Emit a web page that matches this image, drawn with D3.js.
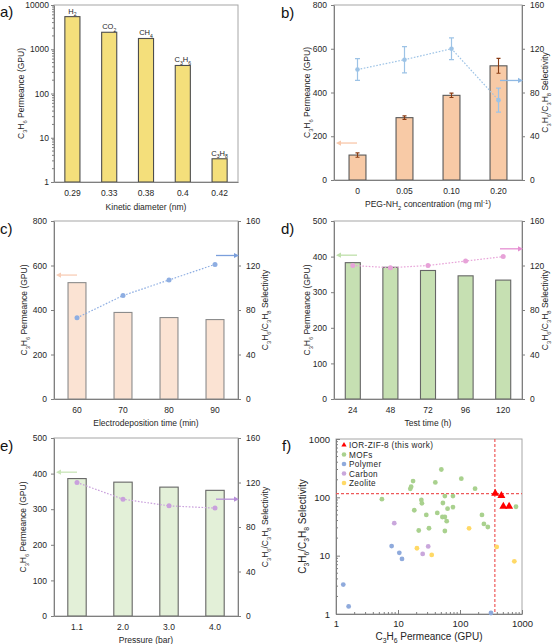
<!DOCTYPE html>
<html><head><meta charset="utf-8">
<script src="https://cdn.jsdelivr.net/npm/d3@7"></script>
<style>body{margin:0;background:#fff}svg{display:block;font-family:"Liberation Sans",Arial,sans-serif}</style>
</head><body><svg id="chart" width="554" height="644"></svg>
<script>
// ---------- data ----------
const aCats = ["0.29","0.33","0.38","0.4","0.42"];
const aGases = ["H_{2}","CO_{2}","CH_{4}","C_{3}H_{6}","C_{3}H_{8}"];
const aPerm = [5460, 2420, 1750, 430, 3.35];
const aTicks = [1,10,100,1000,10000];

const bCats = ["0","0.05","0.10","0.20"];
const bPerm = [114,285,387,522];
const bPermErr = [10,8,10,34];
const bSel = [101,110,120,73];
const bSelErr = [10,12,10,11];
const bArrows = [169,91];

const cCats = ["60","70","80","90"];
const cPerm = [523,389,366,357];
const cSel = [73,93,107,121];
const cArrows = [557,129];

const dCats = ["24","48","72","96","120"];
const dPerm = [383,370,361,346,334];
const dSel = [120,118,120,124,128];
const dArrows = [404,135];

const eCats = ["1.1","2.0","3.0","4.0"];
const ePerm = [386,376,362,353];
const eSel = [120,105,99,97];
const eArrows = [404,105];

const permTicks800 = [0,200,400,600,800];
const permTicks500 = [0,100,200,300,400,500];
const selTicks = [0,40,80,120,160];

const fSeries = ["IOR-ZIF-8 (this work)","MOFs","Polymer","Carbon","Zeolite"];
const fThisWork = [[370,117],[465,107],[500,70],[620,70]];
const fMOFs = [[5.5,93],[15.8,140],[16.3,152],[17.5,190],[18.3,60],[23.8,90],[24.3,79],[21.6,27],[28.6,50],[31.6,29.5],[40,180],[43,54],[50,300],[57,105],[77,105],[53,80],[63,64],[77,68],[52,46],[57,46],[61,39],[57,26.5],[105,209],[175,141],[226,50],[243,35],[281,31],[800,69]];
const fPolymer = [[1.31,3.2],[1.6,1.35],[7.9,14.6],[10.5,11.2],[11.6,8.8],[316,1.04]];
const fCarbon = [[8.7,36],[25,10.7],[30.7,14.4]];
const fZeolite = [[20.2,13.4],[35,10.3],[140,29.4],[391,14.1],[752,8.0]];
const fRefLines = [365,116];
const fTicks = [1,10,100,1000];

// ---------- helpers ----------
const svg = d3.select("#chart");
const TXT = "#262626", AX = "#7f7f7f", FR = "#a6a6a6";
const FS = 8.5;

function rich(t, s, fs) {
  const parts = s.split(/(_\{[^}]*\}|\^\{[^}]*\})/).filter(p => p !== "");
  let shift = 0;
  parts.forEach(p => {
    let txt = p, d = 0, small = false;
    if (p.startsWith("_{")) { txt = p.slice(2, -1); d = fs * 0.3; small = true; }
    else if (p.startsWith("^{")) { txt = p.slice(2, -1); d = -fs * 0.4; small = true; }
    const ts = t.append("tspan").text(txt).attr("dy", d - shift);
    if (small) ts.attr("font-size", fs * 0.68);
    shift = d;
  });
  return t;
}
function label(x, y, s, opts = {}) {
  const fs = opts.fs || FS;
  const t = svg.append("text").attr("x", x).attr("y", y)
    .attr("font-size", fs).attr("fill", TXT)
    .attr("text-anchor", opts.anchor || "middle");
  if (opts.rot) t.attr("transform", `rotate(${opts.rot},${x},${y})`);
  return rich(t, s, fs);
}
function panelLabel(x, y, s) {
  svg.append("text").attr("x", x).attr("y", y).attr("font-size", 15).attr("fill", "#111").text(s);
}
function styleAxis(g, fs) {
  g.selectAll(".domain").attr("stroke", AX);
  g.selectAll(".tick line").attr("stroke", AX);
  g.selectAll(".tick text").attr("fill", TXT).attr("font-size", fs || FS).attr("font-family", "Liberation Sans, Arial, sans-serif");
}
function arrow(x1, x2, y, color) {
  const dir = x2 > x1 ? 1 : -1;
  svg.append("line").attr("x1", x1).attr("x2", x2 - dir * 3).attr("y1", y).attr("y2", y)
    .attr("stroke", color).attr("stroke-width", 1.3);
  svg.append("path").attr("d", `M${x2},${y}L${x2 - dir * 5},${y - 2.6}L${x2 - dir * 5},${y + 2.6}Z`).attr("fill", color);
}

// ---------- panel a ----------
(function () {
  const L = 54, R = 238, T = 5, B = 182;
  svg.append("rect").attr("x", L).attr("y", T).attr("width", R - L).attr("height", B - T).attr("fill", "none").attr("stroke", FR);
  const x = d3.scaleBand().domain(aCats).range([L, R]).paddingInner(0.59).paddingOuter(0.295);
  const y = d3.scaleLog().domain([1, 10000]).range([B, T]);
  svg.selectAll(".barA").data(aPerm).join("rect")
    .attr("x", (d, i) => x(aCats[i])).attr("width", x.bandwidth())
    .attr("y", d => y(d)).attr("height", d => B - y(d))
    .attr("fill", "#f4df7b").attr("stroke", "#4d4d4d").attr("stroke-width", 1.1);
  aPerm.forEach((d, i) => label(x(aCats[i]) + x.bandwidth() / 2, y(d) - 3, aGases[i], { fs: 7.5 }));
  const minor = [];
  for (let k = 0; k < 4; k++) for (let m = 2; m < 10; m++) minor.push(m * Math.pow(10, k));
  svg.selectAll(".minA").data(minor).join("line").attr("x1", L - 2).attr("x2", L).attr("y1", d => y(d)).attr("y2", d => y(d)).attr("stroke", AX);
  const gl = svg.append("g").attr("transform", `translate(${L},0)`)
    .call(d3.axisLeft(y).tickValues(aTicks).tickFormat(d3.format("d")).tickSize(3).tickSizeOuter(0).tickPadding(2));
  styleAxis(gl);
  const gb = svg.append("g").attr("transform", `translate(0,${B})`)
    .call(d3.axisBottom(x).tickSize(0).tickPadding(8));
  styleAxis(gb);
  label((L + R) / 2, B + 28, "Kinetic diameter (nm)");
  label(24, (T + B) / 2, "C_{3}H_{6} Permeance (GPU)", { rot: -90 });
  panelLabel(0, 17, "a)");
})();

// ---------- dual panels ----------
function dualPanel(o) {
  const { L, R, T, B } = o;
  svg.append("rect").attr("x", L).attr("y", T).attr("width", R - L).attr("height", B - T).attr("fill", "none").attr("stroke", FR);
  const x = d3.scaleBand().domain(o.cats).range([L, R]).paddingInner(o.pad).paddingOuter(o.pad / 2);
  const yL = d3.scaleLinear().domain([0, o.lTicks[o.lTicks.length - 1]]).range([B, T]);
  const yR = d3.scaleLinear().domain([0, 160]).range([B, T]);
  const cx = c => x(c) + x.bandwidth() / 2;
  svg.append("g").selectAll("rect").data(o.perm).join("rect")
    .attr("x", (d, i) => x(o.cats[i])).attr("width", x.bandwidth())
    .attr("y", d => yL(d)).attr("height", d => B - yL(d))
    .attr("fill", o.barFill).attr("stroke", o.barStroke).attr("stroke-width", 1.1);
  if (o.permErr) {
    o.perm.forEach((d, i) => {
      const xc = cx(o.cats[i]), e = o.permErr[i];
      svg.append("path").attr("d", `M${xc},${yL(d - e)}V${yL(d + e)}M${xc - 2},${yL(d - e)}H${xc + 2}M${xc - 2},${yL(d + e)}H${xc + 2}`)
        .attr("stroke", "#8a3b12").attr("stroke-width", 1.1).attr("fill", "none");
    });
  }
  const gl = svg.append("g").attr("transform", `translate(${L},0)`)
    .call(d3.axisLeft(yL).tickValues(o.lTicks).tickSize(3).tickSizeOuter(0).tickPadding(4));
  styleAxis(gl);
  const gr = svg.append("g").attr("transform", `translate(${R},0)`)
    .call(d3.axisRight(yR).tickValues(selTicks).tickSize(3).tickSizeOuter(0).tickPadding(5));
  styleAxis(gr);
  const gb = svg.append("g").attr("transform", `translate(0,${B})`)
    .call(d3.axisBottom(x).tickSize(0).tickPadding(8));
  styleAxis(gb);
  const line = d3.line().x((d, i) => cx(o.cats[i])).y(d => yR(d));
  svg.append("path").datum(o.sel).attr("d", line).attr("fill", "none")
    .attr("stroke", o.lineColor).attr("stroke-width", 1.2).attr("stroke-dasharray", "1.6,1.6");
  if (o.selErr) {
    o.sel.forEach((d, i) => {
      const xc = cx(o.cats[i]), e = o.selErr[i];
      svg.append("path").attr("d", `M${xc},${yR(d - e)}V${yR(d + e)}M${xc - 2.5},${yR(d - e)}H${xc + 2.5}M${xc - 2.5},${yR(d + e)}H${xc + 2.5}`)
        .attr("stroke", o.lineColor).attr("stroke-width", 1.2).attr("fill", "none");
    });
  }
  svg.append("g").selectAll("circle").data(o.sel).join("circle")
    .attr("cx", (d, i) => cx(o.cats[i])).attr("cy", d => yR(d)).attr("r", o.r || 2.5).attr("fill", o.lineColor);
  arrow(L + 23, L + 2, yL(o.arrows[0]), o.arrowL);
  arrow(R - 22, R + 1, yR(o.arrows[1]), o.arrowR);
  label((L + R) / 2, B + 27, o.xTitle);
  label(o.ltx, (T + B) / 2, "C_{3}H_{6} Permeance (GPU)", { rot: -90 });
  label(o.rtx, (T + B) / 2, "C_{3}H_{6}/C_{3}H_{8} Selectivity", { rot: -90 });
  panelLabel(o.px, o.py, o.name);
}

dualPanel({ L: 334, R: 522, T: 5, B: 180, cats: bCats, perm: bPerm, permErr: bPermErr, sel: bSel, selErr: bSelErr,
  lTicks: permTicks800, pad: 0.64, barFill: "#f8caa6", barStroke: "#595959", lineColor: "#9dc3e6", r: 2.3,
  arrows: bArrows, arrowL: "#f8c7aa", arrowR: "#8fb9e4",
  xTitle: "PEG-NH_{2} concentration (mg ml^{-1})", ltx: 310, rtx: 548, px: 281, py: 18, name: "b)" });

dualPanel({ L: 54, R: 238, T: 221, B: 399, cats: cCats, perm: cPerm, sel: cSel,
  lTicks: permTicks800, pad: 0.61, barFill: "#fbe3d3", barStroke: "#8c8c8c", lineColor: "#8eaee2",
  arrows: cArrows, arrowL: "#f8cdb6", arrowR: "#7b9fdc",
  xTitle: "Electrodeposition time (min)", ltx: 27, rtx: 268, px: 0, py: 234, name: "c)" });

dualPanel({ L: 334, R: 522, T: 221, B: 399, cats: dCats, perm: dPerm, sel: dSel,
  lTicks: permTicks500, pad: 0.6, barFill: "#c6e0b2", barStroke: "#666666", lineColor: "#e7a2d8",
  arrows: dArrows, arrowL: "#bfe0ab", arrowR: "#e58fd2",
  xTitle: "Test time (h)", ltx: 310, rtx: 548, px: 281, py: 234, name: "d)" });

dualPanel({ L: 54, R: 238, T: 438, B: 616, cats: eCats, perm: ePerm, sel: eSel,
  lTicks: permTicks500, pad: 0.6, barFill: "#e3f0d8", barStroke: "#666666", lineColor: "#c9a0dc",
  arrows: eArrows, arrowL: "#c9e5b8", arrowR: "#b78fd8",
  xTitle: "Pressure (bar)", ltx: 26, rtx: 268, px: 0, py: 451, name: "e)" });

// ---------- panel f ----------
(function () {
  const L = 336, R = 522, T = 439, B = 614;
  const FF = 9.5;
  svg.append("rect").attr("x", L).attr("y", T).attr("width", R - L).attr("height", B - T).attr("fill", "none").attr("stroke", FR);
  const x = d3.scaleLog().domain([1, 1000]).range([L, R]);
  const y = d3.scaleLog().domain([1, 1000]).range([B, T]);
  const minor = [];
  for (let k = 0; k < 3; k++) for (let m = 2; m < 10; m++) minor.push(m * Math.pow(10, k));
  svg.selectAll(".minFx").data(minor).join("line").attr("x1", d => x(d)).attr("x2", d => x(d)).attr("y1", B).attr("y2", B - 2).attr("stroke", AX);
  svg.selectAll(".minFy").data(minor).join("line").attr("y1", d => y(d)).attr("y2", d => y(d)).attr("x1", L).attr("x2", L + 2).attr("stroke", AX);
  const gl = svg.append("g").attr("transform", `translate(${L},0)`)
    .call(d3.axisLeft(y).tickValues(fTicks).tickFormat(d3.format("d")).tickSizeInner(-4).tickSizeOuter(0).tickPadding(6));
  styleAxis(gl, FF);
  const gb = svg.append("g").attr("transform", `translate(0,${B})`)
    .call(d3.axisBottom(x).tickValues(fTicks).tickFormat(d3.format("d")).tickSizeInner(-4).tickSizeOuter(0).tickPadding(6));
  styleAxis(gb, FF);
  svg.append("line").attr("x1", L).attr("x2", R).attr("y1", y(fRefLines[1])).attr("y2", y(fRefLines[1]))
    .attr("stroke", "#ee5a5a").attr("stroke-width", 1.2).attr("stroke-dasharray", "3,2");
  svg.append("line").attr("x1", x(fRefLines[0])).attr("x2", x(fRefLines[0])).attr("y1", T).attr("y2", B)
    .attr("stroke", "#ee5a5a").attr("stroke-width", 1.2).attr("stroke-dasharray", "3,2");
  const groups = [[fMOFs, "#a9d18e"], [fPolymer, "#8faadc"], [fCarbon, "#c9a7dc"], [fZeolite, "#ffd966"]];
  groups.forEach(([data, col]) => {
    svg.append("g").selectAll("circle").data(data).join("circle")
      .attr("cx", d => x(d[0])).attr("cy", d => y(d[1])).attr("r", 2.4).attr("fill", col);
  });
  svg.append("g").selectAll("path").data(fThisWork).join("path")
    .attr("d", d3.symbol(d3.symbolTriangle).size(28))
    .attr("transform", d => `translate(${x(d[0])},${y(d[1])})`).attr("fill", "#ff0000");
  const legCols = ["#ff0000", "#a9d18e", "#8faadc", "#c9a7dc", "#ffd966"];
  fSeries.forEach((s, i) => {
    const yy = 445 + i * 9.5;
    if (i === 0) svg.append("path").attr("d", d3.symbol(d3.symbolTriangle).size(12)).attr("transform", `translate(344,${yy})`).attr("fill", legCols[i]);
    else svg.append("circle").attr("cx", 344).attr("cy", yy).attr("r", 2.3).attr("fill", legCols[i]);
    svg.append("text").attr("x", 349).attr("y", yy + 3).attr("font-size", 8.2).attr("letter-spacing", 0.35).attr("fill", TXT).text(s);
  });
  label((L + R) / 2, B + 26, "C_{3}H_{6} Permeance (GPU)", { fs: 10 });
  label(306, (T + B) / 2, "C_{3}H_{6}/C_{3}H_{8} Selectivity", { rot: -90, fs: 10 });
  panelLabel(282, 451, "f)");
})();
</script></body></html>
